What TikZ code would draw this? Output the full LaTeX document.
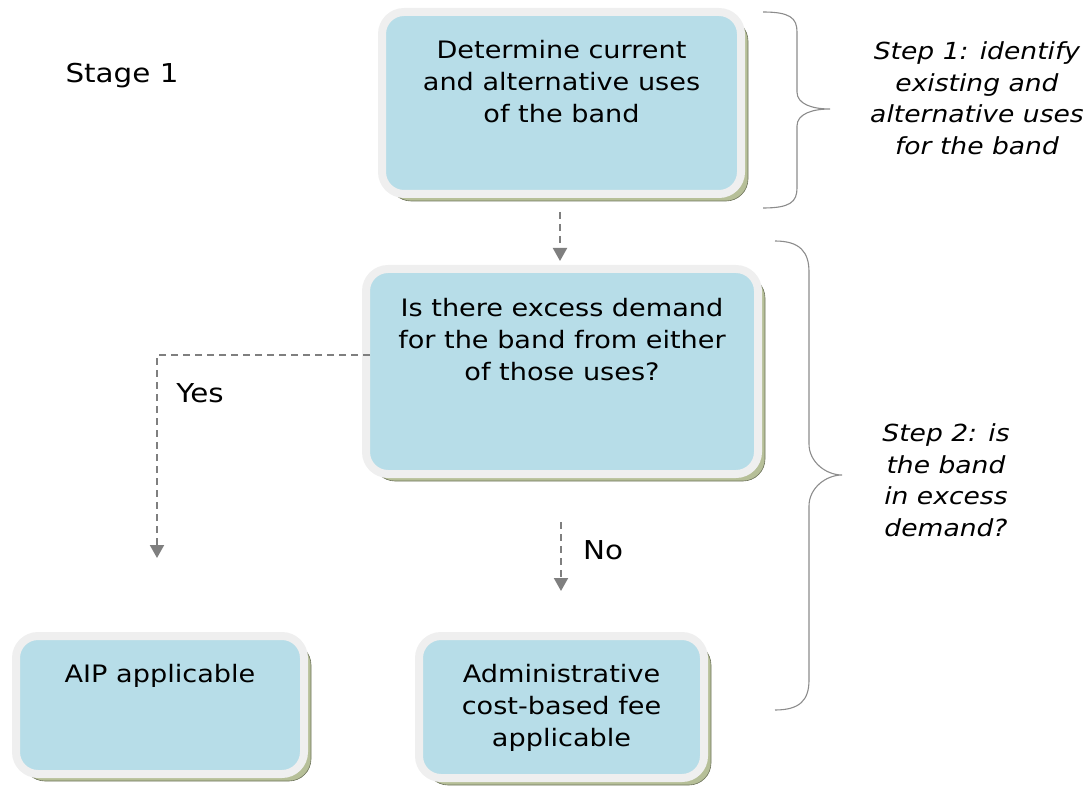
\documentclass[tikz,border=0pt]{standalone}
\usepackage{fontspec}
\setmainfont{DejaVu Sans}
\newfontfamily\diagfont[FakeStretch=1.13]{DejaVu Sans}
\usetikzlibrary{calc}
\usetikzlibrary{shadows}
\usetikzlibrary{arrows.meta}

\definecolor{boxblue}{HTML}{B7DDE8}
\definecolor{boxrim}{HTML}{EFEFEF}
\definecolor{shadowgreen}{HTML}{B6BF98}
\definecolor{flowgray}{HTML}{7F7F7F}
\definecolor{bracegray}{HTML}{8C8C8C}

\tikzset{
  stagebox/.style={draw=boxrim, line width=8pt, fill=boxblue, rounded corners=22pt,
    align=center, inner xsep=0pt,
    font=\diagfont\fontsize{24}{32}\selectfont,
    drop shadow={shadow xshift=7pt, shadow yshift=-7pt, fill=shadowgreen,
      draw=shadowgreen!60!black, line width=0.6pt, opacity=1}},
  flow/.style={draw=flowgray, line width=2pt, dash pattern=on 7pt off 5pt,
    -{Triangle[width=14pt,length=13pt]}},
  bracepath/.style={draw=bracegray, line width=1.1pt},
  sidetext/.style={align=center, font=\diagfont\fontsize{23.5}{31.5}\selectfont\itshape},
  plaintext/.style={font=\diagfont\fontsize{26}{30}\selectfont}
}

\begin{document}
\begin{tikzpicture}[x=1pt, y=-1pt]
  \useasboundingbox (0,0) rectangle (1090,786);

  \node [stagebox, minimum width=359pt, inner ysep=29pt, text height=82pt, text depth=42pt]
    (determine) at (561.5,103) {Determine current\\and alternative uses\\of the band};
  \node [stagebox, minimum width=392pt, inner ysep=30pt, text height=82pt, text depth=63pt]
    (excess) at (562,371.5) {Is there excess demand\\for the band from either\\of those uses?};
  \node [stagebox, minimum width=288pt, inner ysep=28pt, text height=18pt, text depth=64pt]
    (aip) at (160,705) {AIP applicable};
  \node [stagebox, minimum width=285pt, inner ysep=28pt, text height=82pt, text depth=4pt]
    (admin) at (561.5,707) {Administrative\\cost-based fee\\applicable};

  \node [plaintext] (stage) at (122,76) {Stage 1};
  \node [plaintext] (yes) at (200,393) {Yes};
  \node [plaintext] (no) at (603,550) {No};

  \coordinate (yes-end) at ($ (aip.north) + (-3,-74) $);
  \draw [flow] ($ (determine.south) + (-1.5,14) $) -- ($ (excess.north) + (-2,-4) $);
  \draw [flow] ($ (excess.west) + (8,-16.5) $) -| (yes-end);
  \draw [flow] ($ (excess.south) + (-1,44) $) -- ($ (admin.north) + (-0.5,-41) $);

  % braces on the right
  \draw [bracepath] (763,12) .. controls (790,12) and (797,18) .. (797,32)
    -- (797,92) .. controls (797,104) and (812,109) .. (830,109)
    .. controls (812,109) and (797,114) .. (797,126)
    -- (797,188) .. controls (797,202) and (790,208) .. (763,208);
  \draw [bracepath] (775,241) .. controls (800,241) and (809,252) .. (809,272)
    -- (809,444) .. controls (809,462) and (826,475) .. (842,475)
    .. controls (826,475) and (809,488) .. (809,506)
    -- (809,680) .. controls (809,700) and (800,710) .. (775,710);

  \node [sidetext] (step1) at (977,98) {Step 1: identify\\existing and\\alternative uses\\for the band};
  \node [sidetext] (step2) at (946,480) {Step 2: is\\the band\\in excess\\demand?};
\end{tikzpicture}
\end{document}
